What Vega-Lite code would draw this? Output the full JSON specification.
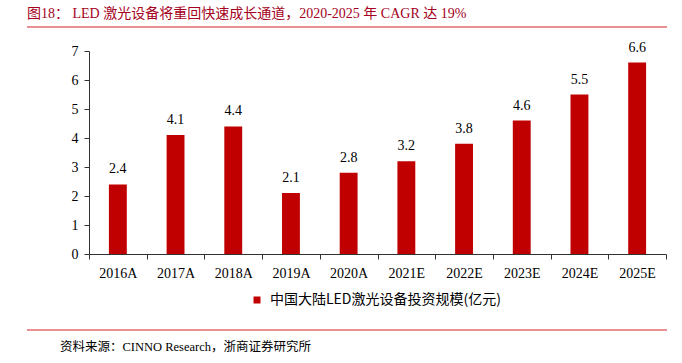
{
  "$schema": "https://vega.github.io/schema/vega-lite/v6.json",
  "width": 577,
  "height": 203,
  "autosize": {"type": "none"},
  "padding": {"left": 89, "top": 51, "right": 16, "bottom": 109},
  "background": "white",
  "config": {"view": {"stroke": null}, "font": "Liberation Serif, Noto Sans CJK SC"},
  "layer": [
    {
      "data": {"values": [
        {"year": "2016A", "value": 2.4},
        {"year": "2017A", "value": 4.1},
        {"year": "2018A", "value": 4.4},
        {"year": "2019A", "value": 2.1},
        {"year": "2020A", "value": 2.8},
        {"year": "2021E", "value": 3.2},
        {"year": "2022E", "value": 3.8},
        {"year": "2023E", "value": 4.6},
        {"year": "2024E", "value": 5.5},
        {"year": "2025E", "value": 6.6}
      ]},
      "encoding": {
        "x": {"field": "year", "type": "nominal", "sort": null,
          "scale": {"paddingInner": 0, "paddingOuter": 0},
          "axis": {"title": null, "labelAngle": 0, "tickBand": "extent", "tickSize": 5, "labelPadding": 7,
            "labelFontSize": 14, "labelColor": "#000", "labelFont": "Liberation Serif",
            "domainColor": "#333", "tickColor": "#333", "grid": false}},
        "y": {"field": "value", "type": "quantitative",
          "scale": {"domain": [0, 7], "nice": false},
          "axis": {"title": null, "values": [0,1,2,3,4,5,6,7], "tickSize": 5, "labelPadding": 6,
            "labelFontSize": 14, "labelColor": "#000", "labelFont": "Liberation Serif",
            "domainColor": "#333", "tickColor": "#333", "grid": false}}
      },
      "layer": [
        {
          "mark": {"type": "bar", "width": {"band": 0.31}},
          "encoding": {
            "color": {"datum": "中国大陆LED激光设备投资规模(亿元)", "type": "nominal",
              "scale": {"range": ["#c00000"]},
              "legend": {"title": null, "orient": "none", "legendX": 161, "legendY": 242,
                "symbolType": "square", "symbolSize": 49, "symbolStrokeWidth": 0, "labelOffset": 6,
                "labelFontSize": 14, "labelFont": "Noto Sans CJK SC, Liberation Serif", "labelColor": "#000", "labelLimit": 400}}
          }
        },
        {
          "mark": {"type": "text", "dy": -8, "baseline": "bottom", "fontSize": 14, "font": "Liberation Serif", "color": "#000"},
          "encoding": {"text": {"field": "value", "type": "quantitative", "format": ".1f"}}
        }
      ]
    },
    {
      "data": {"values": [{}]},
      "layer": [
        {
          "mark": {"type": "rule", "color": "#e26b6b", "strokeWidth": 1.5},
          "encoding": {
            "x": {"datum": -0.1075, "type": "quantitative", "scale": {"domain": [0, 1], "nice": false, "zero": false}, "axis": null},
            "x2": {"datum": 1.0017},
            "y": {"datum": 7.83, "type": "quantitative", "scale": {"domain": [0, 7], "nice": false}, "axis": null}
          }
        },
        {
          "mark": {"type": "rule", "color": "#e26b6b", "strokeWidth": 1.5},
          "encoding": {
            "x": {"datum": -0.1075, "type": "quantitative", "axis": null},
            "x2": {"datum": 1.0017},
            "y": {"datum": -2.62, "type": "quantitative", "axis": null}
          }
        },
        {
          "mark": {"type": "text", "align": "left", "baseline": "middle", "fontSize": 14, "color": "#a50021", "font": "Liberation Serif, Noto Sans CJK SC"},
          "encoding": {
            "x": {"datum": -0.1075, "type": "quantitative", "axis": null},
            "y": {"datum": 8.28, "type": "quantitative", "axis": null},
            "text": {"value": "图18：  LED 激光设备将重回快速成长通道，2020-2025 年 CAGR 达 19%"}
          }
        },
        {
          "mark": {"type": "text", "align": "left", "baseline": "middle", "fontSize": 12.5, "color": "#000", "font": "Liberation Serif, Noto Sans CJK SC"},
          "encoding": {
            "x": {"datum": -0.0503, "type": "quantitative", "axis": null},
            "y": {"datum": -3.21, "type": "quantitative", "axis": null},
            "text": {"value": "资料来源：CINNO Research，浙商证券研究所"}
          }
        }
      ]
    }
  ],
  "resolve": {"scale": {"x": "independent", "y": "independent"}}
}
